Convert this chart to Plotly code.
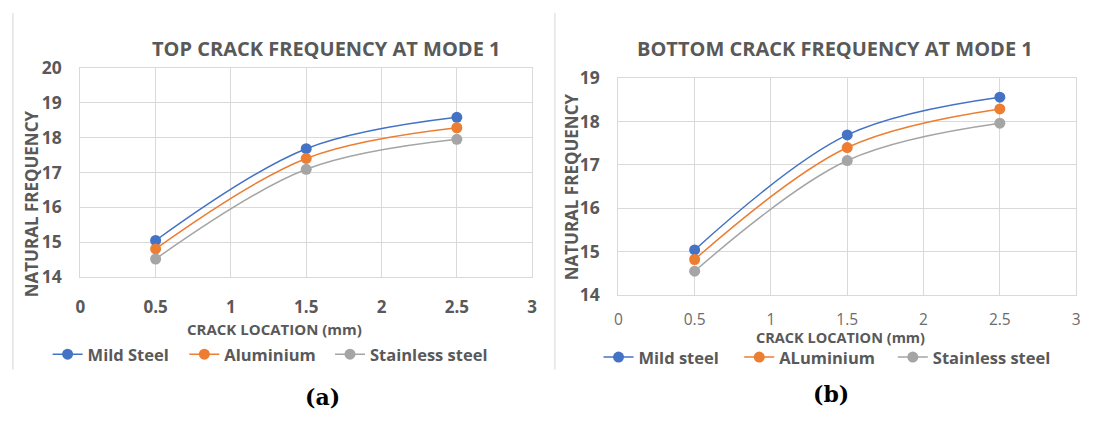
import plotly.graph_objects as go

# ---------------- data ----------------
crack_location = [0.5, 1.5, 2.5]

top_mild_steel = [15.05, 17.68, 18.58]
top_aluminium = [14.81, 17.40, 18.28]
top_stainless = [14.52, 17.09, 17.95]

bottom_mild_steel = [15.04, 17.69, 18.56]
bottom_aluminium = [14.82, 17.40, 18.29]
bottom_stainless = [14.55, 17.10, 17.96]

top_names = ["Mild Steel", "Aluminium", "Stainless steel"]
bottom_names = ["Mild steel", "ALuminium", "Stainless steel"]

x_ticks = [0, 0.5, 1, 1.5, 2, 2.5, 3]
x_tick_text = ["0", "0.5", "1", "1.5", "2", "2.5", "3"]
top_y_ticks = [14, 15, 16, 17, 18, 19, 20]
bottom_y_ticks = [14, 15, 16, 17, 18, 19]

colors = ["#4472C4", "#ED7D31", "#A5A5A5"]

# ---------------- layout helpers ----------------
W, H = 1094, 424
def px(x):
    return x / W
def py(y):
    return 1 - y / H

FONT = "Open Sans"
TXT = "#595959"
GRID = "#D9D9D9"

fig = go.Figure()

top_series = [top_mild_steel, top_aluminium, top_stainless]
bottom_series = [bottom_mild_steel, bottom_aluminium, bottom_stainless]

# legend text start positions (pixels)
top_legend_text_x = [87, 225, 372]
bottom_legend_text_x = [643, 785, 940]
top_legend_y = 362
bottom_legend_y = 365
TEXT_OFFSET = 44  # distance from legend box left edge to its text

legend_layout = {}
k = 0
for name, ys, c, lx in zip(top_names, top_series, colors, top_legend_text_x):
    k += 1
    lname = "legend" if k == 1 else f"legend{k}"
    fig.add_trace(go.Scatter(
        x=crack_location, y=ys, name=name, mode="lines+markers",
        line=dict(color=c, width=1.5, shape="spline", smoothing=1.0),
        marker=dict(color=c, size=11),
        xaxis="x", yaxis="y", legend=lname))
    legend_layout[lname] = dict(orientation="h", x=px(lx - TEXT_OFFSET), y=py(top_legend_y),
                                xanchor="left", yanchor="middle",
                                font=dict(size=16.5, color=TXT, family=FONT, weight="bold"),
                                bgcolor="rgba(0,0,0,0)", itemwidth=30)

for name, ys, c, lx in zip(bottom_names, bottom_series, colors, bottom_legend_text_x):
    k += 1
    lname = f"legend{k}"
    fig.add_trace(go.Scatter(
        x=crack_location, y=ys, name=name, mode="lines+markers",
        line=dict(color=c, width=1.5, shape="spline", smoothing=1.0),
        marker=dict(color=c, size=11),
        xaxis="x2", yaxis="y2", legend=lname))
    legend_layout[lname] = dict(orientation="h", x=px(lx - TEXT_OFFSET), y=py(bottom_legend_y),
                                xanchor="left", yanchor="middle",
                                font=dict(size=16.5, color=TXT, family=FONT, weight="bold"),
                                bgcolor="rgba(0,0,0,0)", itemwidth=30)

axis_common = dict(showgrid=True, gridcolor=GRID, gridwidth=1, zeroline=False,
                   showline=True, mirror=True, linecolor=GRID, linewidth=1,
                   ticks="", fixedrange=True)

fig.update_layout(
    width=W, height=H,
    margin=dict(l=0, r=0, t=0, b=0),
    paper_bgcolor="white", plot_bgcolor="white",
    font=dict(family=FONT, color=TXT),
    xaxis=dict(domain=[px(76), px(532)], range=[0, 3], anchor="y",
               tickvals=x_ticks, ticktext=x_tick_text, ticklabelstandoff=14,
               tickfont=dict(size=17, color=TXT, family=FONT, weight="bold"),
               **axis_common),
    yaxis=dict(domain=[py(280), py(58)], range=[14, 20], anchor="x",
               tickvals=top_y_ticks, ticklabelstandoff=14,
               tickfont=dict(size=17.5, color=TXT, family=FONT, weight="bold"),
               **axis_common),
    xaxis2=dict(domain=[px(619), px(1081)], range=[0, 3], anchor="y2",
                tickvals=x_ticks, ticktext=x_tick_text, ticklabelstandoff=10,
                tickfont=dict(size=15.5, color="#6b6b6b", family=FONT),
                **axis_common),
    yaxis2=dict(domain=[py(299), py(69)], range=[14, 19], anchor="x2",
                tickvals=bottom_y_ticks, ticklabelstandoff=14,
                tickfont=dict(size=17.5, color=TXT, family=FONT, weight="bold"),
                **axis_common),
    showlegend=True,
    **legend_layout,
)

ann = []
def add_text(text, x, y, size, rot=0, family=FONT, color=TXT, weight="bold"):
    ann.append(dict(text=text, x=px(x), y=py(y), xref="paper", yref="paper",
                    xanchor="center", yanchor="middle", showarrow=False, textangle=rot,
                    font=dict(size=size, family=family, color=color, weight=weight)))

add_text("TOP CRACK FREQUENCY AT MODE 1", 324, 38, 20)
add_text("BOTTOM CRACK FREQUENCY AT MODE 1", 838, 38, 20)
add_text("NATURAL FREQUENCY", 27, 202, 17, rot=-90)
add_text("NATURAL FREQUENCY", 572, 184, 17, rot=-90)
add_text("CRACK LOCATION (mm)", 272, 335, 15)
add_text("CRACK LOCATION (mm)", 843, 344, 14.5)
add_text("(a)", 320, 407, 22, family="DejaVu Serif", color="#000000")
add_text("(b)", 834, 404, 22, family="DejaVu Serif", color="#000000")
fig.update_layout(annotations=ann)

fig.update_layout(shapes=[
    dict(type="line", xref="paper", yref="paper", x0=px(8), x1=px(8), y0=py(0), y1=py(378),
         line=dict(color="#D6D6D6", width=1)),
    dict(type="line", xref="paper", yref="paper", x0=px(555), x1=px(555), y0=py(0), y1=py(378),
         line=dict(color="#D6D6D6", width=1)),
])

fig.write_html("out.html")
